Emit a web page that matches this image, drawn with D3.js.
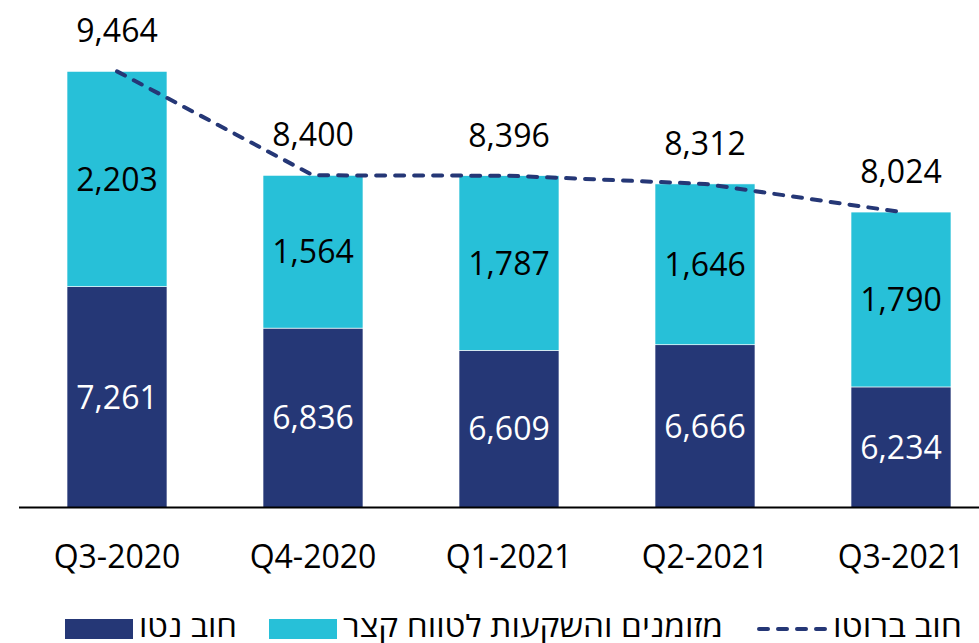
<!DOCTYPE html>
<html>
<head>
<meta charset="utf-8">
<script src="https://cdn.jsdelivr.net/npm/d3@7"></script>
<style>
  html, body { margin: 0; padding: 0; background: #fff; }
  svg { display: block; }
  text { font-family: "Open Sans", "Noto Sans", "DejaVu Sans", sans-serif; }
</style>
</head>
<body>
<svg id="chart" width="979" height="643"></svg>
<script>
// ---- data ----
const categories = ["Q3-2020", "Q4-2020", "Q1-2021", "Q2-2021", "Q3-2021"];
const netDebt = [7261, 6836, 6609, 6666, 6234];
const cashInvest = [2203, 1564, 1787, 1646, 1790];
const grossDebt = [9464, 8400, 8396, 8312, 8024];
const legendLabels = ["חוב נטו", "מזומנים והשקעות לטווח קצר", "חוב ברוטו"];
const yDomain = [5000, 10000];

// ---- styles ----
const DARK = "#253776";
const CYAN = "#27C0D8";

const svg = d3.select("#chart");
const fmt = d3.format(",");

const x = d3.scaleBand().domain(categories).range([19, 999]).paddingInner(0.49).paddingOuter(0.245);
const y = d3.scaleLinear().domain(yDomain).range([507.5, 19]);

const rows = categories.map((c, i) => ({ c, net: netDebt[i], cash: cashInvest[i], gross: grossDebt[i] }));

// bars
const g = svg.append("g");
rows.forEach(d => {
  const base = y.domain()[0];
  g.append("rect")
    .attr("x", x(d.c)).attr("width", x.bandwidth())
    .attr("y", y(d.net)).attr("height", y(base) - y(d.net))
    .attr("fill", DARK).attr("stroke", "#ffffff").attr("stroke-width", 0.6);
  g.append("rect")
    .attr("x", x(d.c)).attr("width", x.bandwidth())
    .attr("y", y(d.net + d.cash)).attr("height", y(d.net) - y(d.net + d.cash))
    .attr("fill", CYAN).attr("stroke", "#ffffff").attr("stroke-width", 0.6);
  g.append("text")
    .attr("x", x(d.c) + x.bandwidth() / 2)
    .attr("y", (y(base) + y(d.net)) / 2)
    .attr("dy", "0.36em")
    .attr("text-anchor", "middle").attr("font-size", 32).attr("fill", "#ffffff")
    .text(fmt(d.net));
  g.append("text")
    .attr("x", x(d.c) + x.bandwidth() / 2)
    .attr("y", (y(d.net) + y(d.net + d.cash)) / 2)
    .attr("dy", "0.36em")
    .attr("text-anchor", "middle").attr("font-size", 32).attr("fill", "#000000")
    .text(fmt(d.cash));
});

// axis
const xAxis = svg.append("g").attr("transform", "translate(0,507.5)")
  .call(d3.axisBottom(x).tickSize(0).tickPadding(0));
xAxis.select(".domain").attr("d", "M19,0H979").attr("stroke", "#000").attr("stroke-width", 2.2);
xAxis.selectAll(".tick text")
  .attr("font-size", 32).attr("fill", "#000")
  .attr("font-family", "\"Open Sans\", sans-serif")
  .attr("dy", null).attr("y", 60);

// dashed gross debt line
const line = d3.line().x(d => x(d.c) + x.bandwidth() / 2).y(d => y(d.gross));
svg.append("path").datum(rows)
  .attr("d", line).attr("fill", "none")
  .attr("stroke", DARK).attr("stroke-width", 4)
  .attr("stroke-dasharray", "9,10").attr("stroke-linecap", "round");

// gross labels
svg.selectAll(".gl").data(rows).enter().append("text")
  .attr("x", d => x(d.c) + x.bandwidth() / 2)
  .attr("y", d => y(d.gross) - 29)
  .attr("text-anchor", "middle").attr("font-size", 32).attr("fill", "#000")
  .text(d => fmt(d.gross));

// legend (right-to-left)
const leg = svg.append("g");
const legY = 637;
const items = [
  { label: legendLabels[2], type: "line", right: 962, w: 129 },
  { label: legendLabels[1], type: "box", color: CYAN, right: 723, w: 380 },
  { label: legendLabels[0], type: "box", color: DARK, right: 237, w: 98 }
];
items.forEach(it => {
  leg.append("text")
    .attr("x", it.right).attr("y", legY)
    .attr("text-anchor", "end").attr("font-size", 30).attr("fill", "#000")
    .attr("textLength", it.w).attr("lengthAdjust", "spacingAndGlyphs")
    .text(it.label);
  const symRight = it.right - it.w - 6;
  if (it.type === "line") {
    leg.append("line")
      .attr("x1", symRight - 68).attr("x2", symRight - 2)
      .attr("y1", 629).attr("y2", 629)
      .attr("stroke", DARK).attr("stroke-width", 4)
      .attr("stroke-dasharray", "9,10").attr("stroke-linecap", "round");
  } else {
    leg.append("rect")
      .attr("x", symRight - 68).attr("y", 619).attr("width", 68).attr("height", 20)
      .attr("fill", it.color);
  }
});
</script>
</body>
</html>
